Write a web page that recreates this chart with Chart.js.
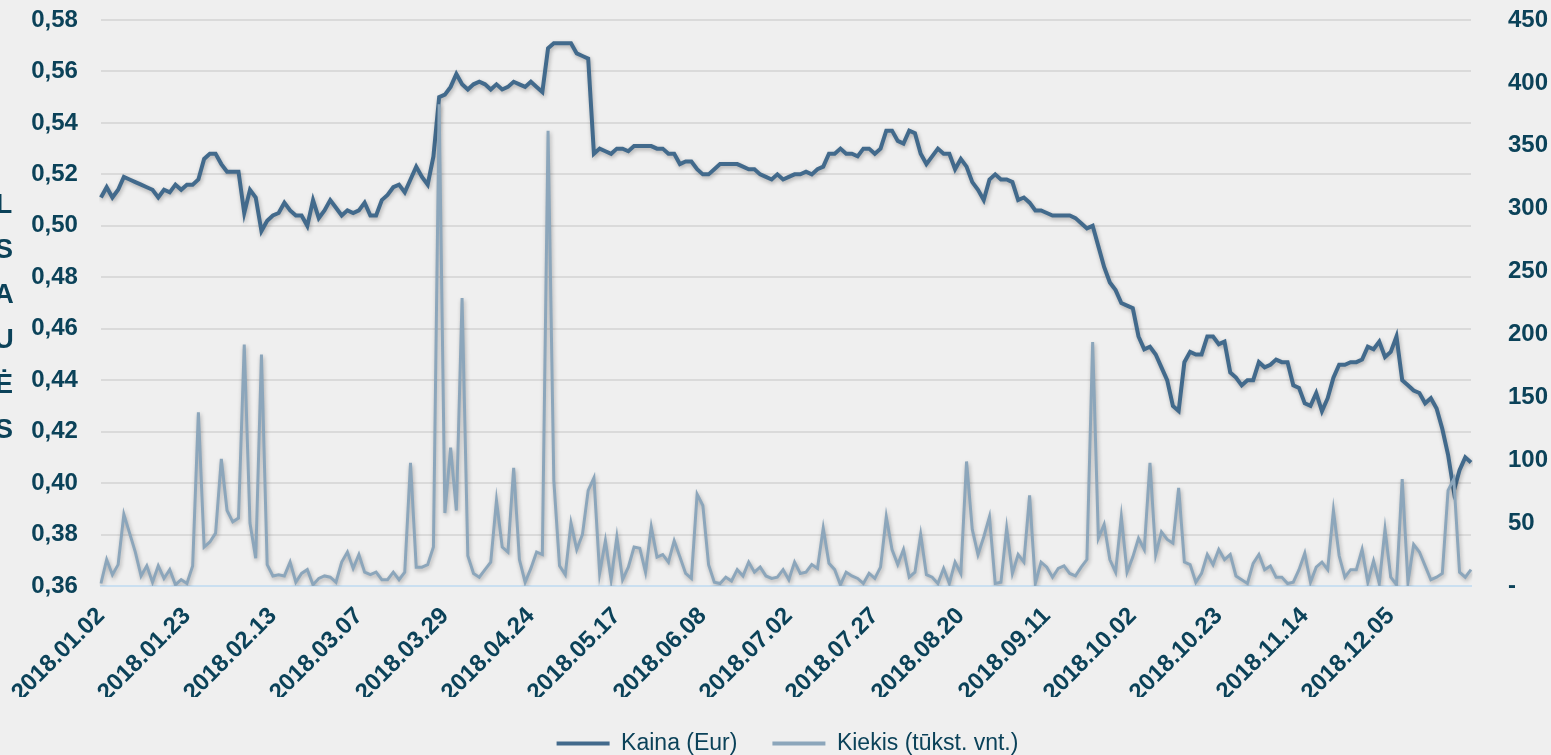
<!DOCTYPE html>
<html lang="lt">
<head>
<meta charset="utf-8">
<title>Kaina ir kiekis 2018</title>
<script src="https://cdn.jsdelivr.net/npm/chart.js@4.4.0/dist/chart.umd.min.js"></script>
<style>
    html, body {
        margin: 0;
        padding: 0;
        background: #efefef;
        overflow: hidden;
    }
    #wrap {
        position: relative;
        width: 1551px;
        height: 755px;
    }
    #chart {
        position: absolute;
        left: 0;
        top: 0;
    }
    .side-title {
        position: absolute;
        left: -6px;
        top: 182px;
        width: 20px;
        font: bold 27px "Liberation Sans", Arial, sans-serif;
        line-height: 45px;
        color: #0b4259;
        text-align: center;
    }
</style>
</head>
<body>
<div id="wrap">
    <canvas id="chart" width="1551" height="755"></canvas>
    <div class="side-title">L<br>S<br>A<br>U<br>Ė<br>S</div>
</div>
<script>
// trading days of 2018 (MM.DD), every 15th one is labelled
const days = [
    '01.02', '01.03', '01.04', '01.05', '01.08', '01.09', '01.10', '01.11', '01.12', '01.15', '01.16', '01.17', '01.18', '01.19', '01.22',
    '01.23', '01.24', '01.25', '01.26', '01.29', '01.30', '01.31', '02.01', '02.02', '02.05', '02.06', '02.07', '02.08', '02.09', '02.12',
    '02.13', '02.14', '02.15', '02.19', '02.20', '02.21', '02.22', '02.23', '02.26', '02.27', '02.28', '03.01', '03.02', '03.05', '03.06',
    '03.07', '03.08', '03.09', '03.13', '03.14', '03.15', '03.16', '03.19', '03.20', '03.21', '03.22', '03.23', '03.26', '03.27', '03.28',
    '03.29', '04.03', '04.04', '04.05', '04.06', '04.09', '04.10', '04.11', '04.12', '04.13', '04.16', '04.17', '04.18', '04.19', '04.20',
    '04.24', '04.25', '04.26', '04.27', '05.02', '05.03', '05.04', '05.07', '05.08', '05.09', '05.10', '05.11', '05.14', '05.15', '05.16',
    '05.17', '05.18', '05.21', '05.22', '05.23', '05.24', '05.25', '05.28', '05.29', '05.30', '05.31', '06.01', '06.04', '06.05', '06.07',
    '06.08', '06.11', '06.12', '06.13', '06.14', '06.15', '06.18', '06.19', '06.20', '06.21', '06.22', '06.26', '06.27', '06.28', '06.29',
    '07.02', '07.03', '07.04', '07.05', '07.09', '07.10', '07.11', '07.13', '07.16', '07.17', '07.19', '07.20', '07.23', '07.25', '07.26',
    '07.27', '07.30', '07.31', '08.01', '08.02', '08.03', '08.06', '08.07', '08.08', '08.09', '08.10', '08.13', '08.14', '08.16', '08.17',
    '08.20', '08.21', '08.22', '08.23', '08.24', '08.27', '08.28', '08.29', '08.30', '08.31', '09.03', '09.04', '09.05', '09.06', '09.10',
    '09.11', '09.12', '09.13', '09.14', '09.17', '09.18', '09.19', '09.20', '09.21', '09.24', '09.25', '09.26', '09.27', '09.28', '10.01',
    '10.02', '10.03', '10.04', '10.05', '10.08', '10.09', '10.10', '10.11', '10.12', '10.15', '10.16', '10.17', '10.18', '10.19', '10.22',
    '10.23', '10.24', '10.25', '10.26', '10.29', '10.30', '10.31', '11.02', '11.05', '11.06', '11.07', '11.08', '11.09', '11.12', '11.13',
    '11.14', '11.15', '11.16', '11.19', '11.20', '11.21', '11.22', '11.23', '11.26', '11.27', '11.28', '11.29', '11.30', '12.03', '12.04',
    '12.05', '12.06', '12.07', '12.10', '12.11', '12.12', '12.13', '12.14', '12.17', '12.18', '12.19', '12.20', '12.21', '12.27', '12.28',
];
const labels = days.map((d) => '2018.' + d);
const labelStep = 15;

// Kaina (Eur)
const kaina = [
    0.511, 0.515, 0.511, 0.514, 0.519, 0.518, 0.517, 0.516, 0.515, 0.514,
    0.511, 0.514, 0.513, 0.516, 0.514, 0.516, 0.516, 0.518, 0.526, 0.528,
    0.528, 0.524, 0.521, 0.521, 0.521, 0.505, 0.514, 0.511, 0.498, 0.502,
    0.504, 0.505, 0.509, 0.506, 0.504, 0.504, 0.500, 0.510, 0.503, 0.506,
    0.510, 0.507, 0.504, 0.506, 0.505, 0.506, 0.509, 0.504, 0.504, 0.510,
    0.512, 0.515, 0.516, 0.513, 0.518, 0.523, 0.519, 0.516, 0.527, 0.550,
    0.551, 0.554, 0.559, 0.555, 0.553, 0.555, 0.556, 0.555, 0.553, 0.555,
    0.553, 0.554, 0.556, 0.555, 0.554, 0.556, 0.554, 0.552, 0.569, 0.571,
    0.571, 0.571, 0.571, 0.567, 0.566, 0.565, 0.528, 0.530, 0.529, 0.528,
    0.530, 0.530, 0.529, 0.531, 0.531, 0.531, 0.531, 0.530, 0.530, 0.528,
    0.528, 0.524, 0.525, 0.525, 0.522, 0.520, 0.520, 0.522, 0.524, 0.524,
    0.524, 0.524, 0.523, 0.522, 0.522, 0.520, 0.519, 0.518, 0.520, 0.518,
    0.519, 0.520, 0.520, 0.521, 0.520, 0.522, 0.523, 0.528, 0.528, 0.530,
    0.528, 0.528, 0.527, 0.530, 0.530, 0.528, 0.530, 0.537, 0.537, 0.533,
    0.532, 0.537, 0.536, 0.528, 0.524, 0.527, 0.530, 0.528, 0.528, 0.522,
    0.526, 0.523, 0.517, 0.514, 0.510, 0.518, 0.520, 0.518, 0.518, 0.517,
    0.510, 0.511, 0.509, 0.506, 0.506, 0.505, 0.504, 0.504, 0.504, 0.504,
    0.503, 0.501, 0.499, 0.500, 0.492, 0.484, 0.478, 0.475, 0.470, 0.469,
    0.468, 0.457, 0.452, 0.453, 0.450, 0.445, 0.440, 0.430, 0.428, 0.447,
    0.451, 0.450, 0.450, 0.457, 0.457, 0.454, 0.455, 0.443, 0.441, 0.438,
    0.440, 0.440, 0.447, 0.445, 0.446, 0.448, 0.447, 0.447, 0.438, 0.437,
    0.431, 0.430, 0.435, 0.428, 0.433, 0.441, 0.446, 0.446, 0.447, 0.447,
    0.448, 0.453, 0.452, 0.455, 0.449, 0.451, 0.457, 0.440, 0.438, 0.436,
    0.435, 0.431, 0.433, 0.429, 0.421, 0.411, 0.397, 0.405, 0.410, 0.408,
];

// Kiekis (tūkst. vnt.)
const kiekis = [
    2, 21, 9, 17, 57, 42, 27, 8, 16, 3,
    16, 6, 13, 1, 5, 2, 16, 138, 31, 35,
    42, 101, 60, 51, 54, 192, 50, 22, 184, 17,
    8, 9, 8, 19, 3, 10, 13, 1, 6, 8,
    7, 3, 19, 27, 14, 25, 11, 9, 11, 5,
    5, 11, 5, 11, 98, 15, 15, 17, 31, 383,
    58, 110, 60, 229, 24, 10, 7, 13, 19, 68,
    31, 27, 94, 21, 3, 14, 27, 25, 362, 84,
    16, 9, 50, 29, 41, 76, 86, 10, 36, 5,
    39, 5, 15, 31, 30, 11, 47, 23, 25, 19,
    36, 23, 10, 6, 73, 64, 17, 3, 2, 7,
    4, 13, 8, 19, 11, 15, 8, 6, 7, 13,
    5, 19, 10, 11, 17, 14, 46, 18, 13, 1,
    11, 8, 6, 2, 10, 6, 15, 55, 29, 17,
    29, 7, 11, 41, 9, 7, 2, 14, 2, 19,
    10, 99, 45, 25, 39, 55, 2, 3, 46, 10,
    25, 19, 72, 2, 19, 15, 7, 14, 16, 10,
    8, 15, 21, 194, 38, 49, 21, 11, 55, 11,
    23, 38, 29, 98, 25, 43, 37, 34, 78, 19,
    17, 3, 10, 25, 17, 29, 21, 25, 8, 5,
    2, 18, 25, 13, 16, 7, 7, 2, 3, 13,
    26, 3, 15, 19, 13, 60, 24, 7, 13, 13,
    29, 3, 20, 2, 45, 7, 1, 85, 3, 33,
    27, 16, 5, 7, 10, 76, 85, 11, 7, 13,
];

const priceTicks = [0.36, 0.38, 0.40, 0.42, 0.44, 0.46, 0.48, 0.50, 0.52, 0.54, 0.56, 0.58];
const volumeTicks = [0, 50, 100, 150, 200, 250, 300, 350, 400, 450];

const textColor = '#0b4259';
const fontFamily = '"Liberation Sans", Arial, sans-serif';
const tickFont = { family: fontFamily, size: 24, weight: 'bold' };

// soft drop shadow under the lines, like the office chart
const lineShadow = {
    id: 'lineShadow',
    beforeDatasetDraw(chart) {
        const ctx = chart.ctx;
        ctx.save();
        ctx.shadowColor = 'rgba(0, 0, 0, 0.28)';
        ctx.shadowBlur = 4;
        ctx.shadowOffsetX = 1;
        ctx.shadowOffsetY = 2;
    },
    afterDatasetDraw(chart) {
        chart.ctx.restore();
    },
};

// nudge the legend a bit to the right
const legendShift = {
    id: 'legendShift',
    afterLayout(chart) {
        if (chart.legend) {
            chart.legend.left += 12;
            chart.legend.right += 12;
        }
    },
};

new Chart(document.getElementById('chart'), {
    type: 'line',
    data: {
        labels,
        datasets: [
            {
                label: 'Kaina (Eur)',
                data: kaina,
                yAxisID: 'y',
                borderColor: '#426a8c',
                backgroundColor: '#426a8c',
                borderWidth: 4,
                pointRadius: 0,
                tension: 0,
                order: 1,
            },
            {
                label: 'Kiekis (tūkst. vnt.)',
                data: kiekis,
                yAxisID: 'y1',
                borderColor: '#8ca6bb',
                backgroundColor: '#8ca6bb',
                borderWidth: 3,
                pointRadius: 0,
                tension: 0,
                order: 0,
            },
        ],
    },
    options: {
        responsive: false,
        animation: false,
        devicePixelRatio: 1,
        layout: { padding: { top: 20, left: 0, right: 0, bottom: 0 } },
        scales: {
            x: {
                offset: false,
                grid: { display: false, drawTicks: false },
                border: { display: true, color: '#cadff0', width: 2 },
                ticks: {
                    autoSkip: false,
                    minRotation: 45,
                    maxRotation: 45,
                    padding: 16,
                    color: textColor,
                    font: tickFont,
                    callback(value, index) {
                        return index % labelStep === 0 ? this.getLabelForValue(value) : '';
                    },
                },
                afterFit(scale) {
                    scale.height = 111;
                },
            },
            y: {
                position: 'left',
                min: 0.36,
                max: 0.58,
                afterBuildTicks(scale) {
                    scale.ticks = priceTicks.map((v) => ({ value: v }));
                },
                grid: {
                    drawTicks: false,
                    lineWidth: 2,
                    color: (ctx) => (ctx.tick && ctx.tick.value === 0.36 ? 'rgba(0,0,0,0)' : '#dadada'),
                },
                border: { display: false },
                ticks: {
                    padding: 23,
                    color: textColor,
                    font: tickFont,
                    callback: (v) => Number(v).toFixed(2).replace('.', ','),
                },
                afterFit(scale) {
                    scale.width = 100;
                    scale.paddingTop = 0;
                    scale.paddingBottom = 0;
                },
            },
            y1: {
                position: 'right',
                min: 0,
                max: 450,
                afterBuildTicks(scale) {
                    scale.ticks = volumeTicks.map((v) => ({ value: v }));
                },
                grid: { display: false, drawTicks: false },
                border: { display: false },
                ticks: {
                    padding: 37,
                    color: textColor,
                    font: tickFont,
                    callback: (v) => (v === 0 ? '-' : String(v)),
                },
                afterFit(scale) {
                    scale.width = 80;
                    scale.paddingTop = 0;
                    scale.paddingBottom = 0;
                },
            },
        },
        plugins: {
            legend: {
                position: 'bottom',
                maxHeight: 58,
                labels: {
                    boxWidth: 53,
                    boxHeight: 4,
                    padding: 35,
                    color: textColor,
                    font: { family: fontFamily, size: 23 },
                    sort: (a, b) => a.datasetIndex - b.datasetIndex,
                    generateLabels(chart) {
                        const items = Chart.defaults.plugins.legend.labels.generateLabels(chart);
                        return items.map((item) => ({
                            ...item,
                            fillStyle: item.strokeStyle,
                            lineWidth: 0,
                        }));
                    },
                },
            },
            tooltip: { enabled: false },
        },
    },
    plugins: [lineShadow, legendShift],
});
</script>
</body>
</html>
